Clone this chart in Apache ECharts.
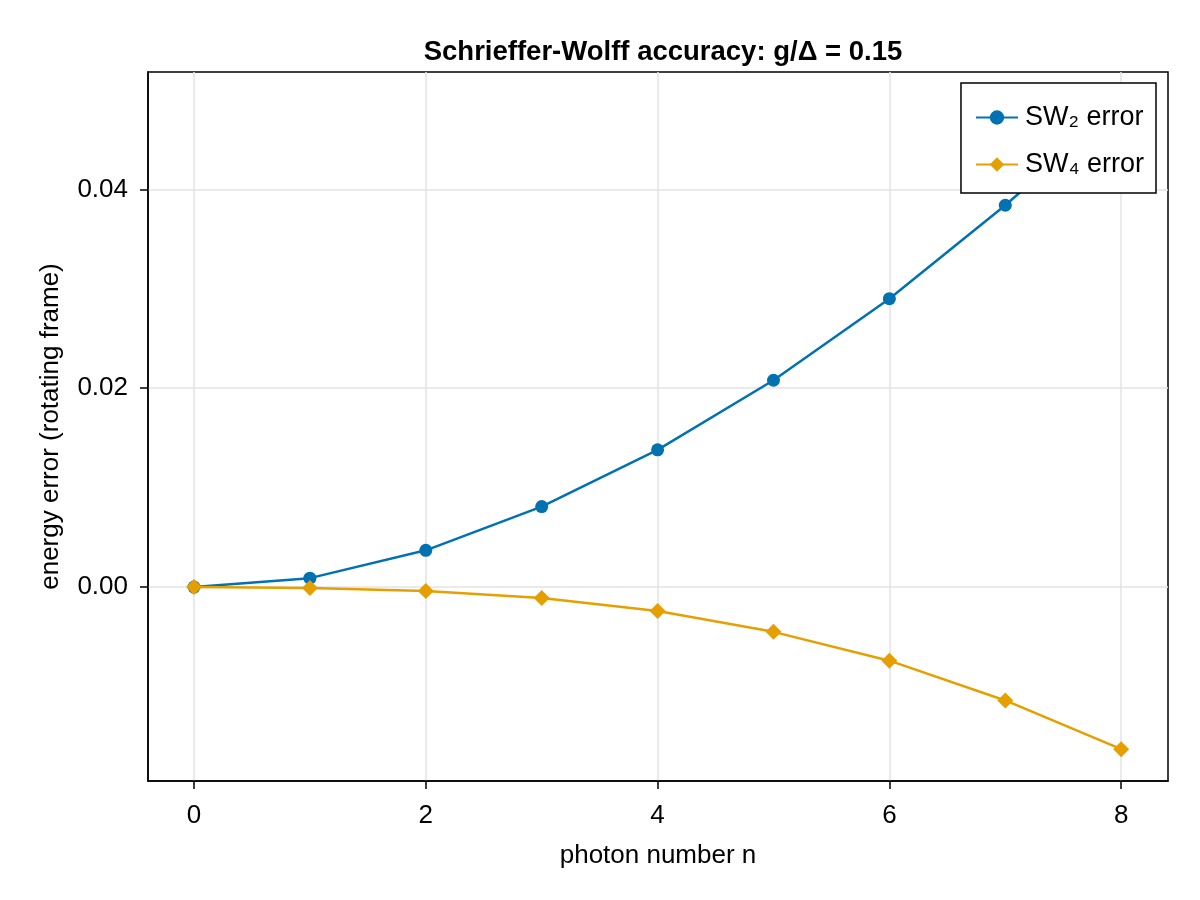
<!DOCTYPE html>
<html>
<head>
<meta charset="utf-8">
<script src="https://cdn.jsdelivr.net/npm/echarts@6/dist/echarts.min.js"></script>
<style>html,body{margin:0;padding:0;background:#fff}#main{width:1200px;height:900px}</style>
</head>
<body>
<div id="main"></div>
<script>
var photonN = [0, 1, 2, 3, 4, 5, 6, 7, 8];
var sw2Err = [0.0000, 0.0009, 0.0037, 0.0081, 0.0138, 0.0208, 0.0290, 0.0384, 0.0486];
var sw4Err = [0.0000, -0.0001, -0.0004, -0.0011, -0.0024, -0.0045, -0.0074, -0.0114, -0.0163];
var xTicks = [0, 2, 4, 6, 8];
var yTicks = [0, 0.02, 0.04];

var font = 'Liberation Sans, Arial, sans-serif';
var myChart = echarts.init(document.getElementById('main'));

function pairs(ys) {
    return photonN.map(function (x, i) { return [x, ys[i]]; });
}

option = {
    backgroundColor: '#fff',
    animation: false,
    title: {
        text: 'Schrieffer-Wolff accuracy: g/Δ = 0.15',
        left: 658, top: 33, textAlign: 'center',
        textStyle: { fontFamily: font, fontSize: 27.5, fontWeight: 'bold', color: '#000' }
    },
    legend: {
        orient: 'vertical',
        right: 44, top: 83,
        padding: [21, 12, 15, 14],
        itemGap: 20,
        itemWidth: 42, itemHeight: 18,
        borderColor: '#000', borderWidth: 1.5,
        backgroundColor: '#fff',
        textStyle: { fontFamily: font, fontSize: 27, color: '#000', padding: [0, 0, 0, 2] },
        data: ['SW₂ error', 'SW₄ error']
    },
    grid: {
        left: 148, right: 32, top: 72, bottom: 119,
        show: true, borderColor: '#000', borderWidth: 1.5
    },
    xAxis: {
        type: 'value',
        min: -0.397, max: 8.404,
        name: 'photon number n',
        nameLocation: 'middle', nameGap: 62,
        nameTextStyle: { fontFamily: font, fontSize: 26, color: '#000' },
        axisLine: { show: true, onZero: false, lineStyle: { color: '#000', width: 1.5 } },
        axisTick: { show: true, customValues: xTicks, length: 8, lineStyle: { color: '#000', width: 1.5 } },
        axisLabel: { customValues: xTicks, fontFamily: font, fontSize: 26, color: '#000', margin: 22 },
        splitLine: { show: true, lineStyle: { color: '#e3e3e3', width: 1.5 } }
    },
    yAxis: {
        type: 'value',
        min: -0.0195, max: 0.0518,
        name: 'energy error (rotating frame)',
        nameLocation: 'middle', nameGap: 84,
        nameTextStyle: { fontFamily: font, fontSize: 26, color: '#000' },
        axisLine: { show: true, onZero: false, lineStyle: { color: '#000', width: 1.5 } },
        axisTick: { show: true, customValues: yTicks, length: 8, lineStyle: { color: '#000', width: 1.5 } },
        axisLabel: {
            customValues: yTicks, fontFamily: font, fontSize: 26, color: '#000', margin: 20,
            formatter: function (v) { return v.toFixed(2); }
        },
        splitLine: { show: true, lineStyle: { color: '#e3e3e3', width: 1.5 } }
    },
    series: [
        {
            name: 'SW₂ error',
            type: 'line',
            data: pairs(sw2Err),
            symbol: 'circle', symbolSize: 13,
            itemStyle: { color: '#0072B2' },
            lineStyle: { color: '#0072B2', width: 2.5 }
        },
        {
            name: 'SW₄ error',
            type: 'line',
            data: pairs(sw4Err),
            symbol: 'diamond', symbolSize: 16,
            itemStyle: { color: '#E69F00' },
            lineStyle: { color: '#E69F00', width: 2.5 }
        }
    ]
};
myChart.setOption(option);
</script>
</body>
</html>
